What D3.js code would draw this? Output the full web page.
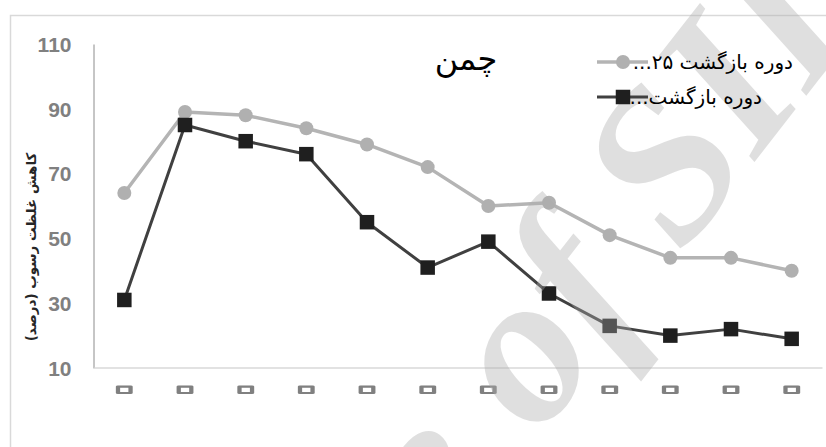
<!DOCTYPE html>
<html>
<head>
<meta charset="utf-8">
<script src="https://cdn.jsdelivr.net/npm/d3@7"></script>
<style>
  html, body { margin: 0; padding: 0; background: #fff; overflow: hidden; }
  svg { display: block; }
</style>
</head>
<body>
<svg id="chart" width="826" height="447"></svg>
<script>
// ---- data ----
const categories = ["۰", "۰", "۰", "۰", "۰", "۰", "۰", "۰", "۰", "۰", "۰", "۰"];
const seriesNames = ["دوره بازگشت ۲۵...", "دوره بازگشت..."];
const returnPeriod25 = [64, 89, 88, 84, 79, 72, 60, 61, 51, 44, 44, 40];
const returnPeriodOther = [31, 85, 80, 76, 55, 41, 49, 33, 23, 20, 22, 19];
const yTicks = [10, 30, 50, 70, 90, 110];
const chartTitle = "چمن";
const yAxisTitle = "کاهش غلظت رسوب (درصد)";
const watermarkText = "Archive of SID";

// ---- layout ----
const svg = d3.select("#chart");
const plot = { left: 94, right: 822, top: 44, bottom: 368 };

const x = d3.scaleBand()
  .domain(d3.range(categories.length))
  .range([plot.left, plot.right]);
const cx = i => x(i) + x.bandwidth() / 2;

const y = d3.scaleLinear()
  .domain([10, 110])
  .range([plot.bottom, plot.top]);

// outer chart frame
svg.append("rect")
  .attr("x", 10.5).attr("y", 15.5)
  .attr("width", 900).attr("height", 600)
  .attr("fill", "#fff")
  .attr("stroke", "#d9d9d9")
  .attr("stroke-width", 1.5);

// ---- axes ----
const yAxis = svg.append("g")
  .attr("transform", `translate(${plot.left - 0.5},0)`)
  .call(d3.axisLeft(y).tickValues(yTicks).tickSize(0).tickSizeOuter(0).tickPadding(22));
yAxis.select(".domain").attr("stroke", "#8c8c8c").attr("stroke-width", 1);
yAxis.selectAll("text")
  .attr("fill", "#808080")
  .attr("font-family", "'Liberation Sans', Arial, sans-serif")
  .attr("font-weight", "bold")
  .attr("font-size", 21)
  .attr("dy", "0.35em");

const xAxis = svg.append("g")
  .attr("transform", `translate(0,${plot.bottom - 0.5})`)
  .call(d3.axisBottom(x).tickFormat(i => categories[i]).tickSize(0).tickSizeOuter(0).tickPadding(0));
xAxis.select(".domain").attr("stroke", "#d9d9d9").attr("stroke-width", 1.5);
// the zero digit is drawn as a hollow ring
xAxis.selectAll("text")
  .attr("y", 0).attr("dy", 0)
  .attr("transform", "translate(0,32) scale(1.9,1)")
  .attr("fill", "none")
  .attr("stroke", "#808080")
  .attr("stroke-width", 3.4)
  .attr("stroke-linejoin", "round")
  .attr("vector-effect", "non-scaling-stroke")
  .attr("font-family", "'DejaVu Sans', sans-serif")
  .attr("font-weight", "bold")
  .attr("font-size", 38);

// ---- watermark ----
const wm = svg.append("g").attr("transform", "translate(521,356) rotate(-52)");
const wt = wm.append("text")
  .attr("font-family", "'Liberation Serif', 'Times New Roman', serif")
  .attr("font-weight", "bold")
  .attr("font-style", "italic")
  .attr("font-size", 215)
  .attr("fill", "#adadad")
  .attr("opacity", 0.38)
  .text(watermarkText);

// ---- series ----
const line = d3.line().x((d, i) => cx(i)).y(d => y(d));

const series = svg.append("g");
series.append("path")
  .datum(returnPeriod25)
  .attr("d", line)
  .attr("fill", "none")
  .attr("stroke", "#b4b4b4")
  .attr("stroke-width", 3.5)
  .attr("stroke-linejoin", "round");

series.append("g").selectAll("circle")
  .data(returnPeriod25)
  .join("circle")
  .attr("cx", (d, i) => cx(i))
  .attr("cy", d => y(d))
  .attr("r", 7)
  .attr("fill", "#b0b0b0");

series.append("path")
  .datum(returnPeriodOther)
  .attr("d", line)
  .attr("fill", "none")
  .attr("stroke", "#404040")
  .attr("stroke-width", 3)
  .attr("stroke-linejoin", "round");

const sq = 14.5;
series.append("g").selectAll("rect")
  .data(returnPeriodOther)
  .join("rect")
  .attr("x", (d, i) => cx(i) - sq / 2)
  .attr("y", d => y(d) - sq / 2)
  .attr("width", sq)
  .attr("height", sq)
  .attr("fill", "#1f1f1f");

// watermark sits above the plotted marks
wm.raise();

// centre the "o" of "of" on the group origin
const ext = wt.node().getExtentOfChar(watermarkText.indexOf(" of") + 1);
wt.attr("x", -(ext.x + ext.width / 2)).attr("y", -(ext.y + ext.height / 2) - 8);

// ---- titles ----
svg.append("text")
  .attr("x", 466).attr("y", 70)
  .attr("text-anchor", "middle")
  .attr("direction", "rtl")
  .attr("font-family", "'DejaVu Sans', sans-serif")
  .attr("font-size", 32)
  .attr("fill", "#000")
  .text(chartTitle);

svg.append("text")
  .attr("transform", "translate(36,247) rotate(-90)")
  .attr("text-anchor", "middle")
  .attr("direction", "rtl")
  .attr("font-family", "'DejaVu Sans', sans-serif")
  .attr("font-weight", "bold")
  .attr("font-size", 13.5)
  .attr("fill", "#262626")
  .text(yAxisTitle);

// ---- legend ----
const legendRows = [
  { name: seriesNames[0], y: 62, right: 793, kind: "circle", color: "#b4b4b4", mark: "#b0b0b0", w: 3.5 },
  { name: seriesNames[1], y: 97, right: 762, kind: "square", color: "#404040", mark: "#1f1f1f", w: 3 }
];
legendRows.forEach(r => {
  const g = svg.append("g");
  g.append("line")
    .attr("x1", 597).attr("x2", 648)
    .attr("y1", r.y).attr("y2", r.y)
    .attr("stroke", r.color).attr("stroke-width", r.w);
  if (r.kind === "circle") {
    g.append("circle").attr("cx", 623).attr("cy", r.y).attr("r", 7).attr("fill", r.mark);
  } else {
    g.append("rect").attr("x", 623 - sq / 2).attr("y", r.y - sq / 2)
      .attr("width", sq).attr("height", sq).attr("fill", r.mark);
  }
  const t = g.append("text")
    .attr("x", r.right).attr("y", r.y + 7)
    .attr("direction", "rtl")
    .attr("font-family", "'DejaVu Sans', sans-serif")
    .attr("font-size", 20)
    .attr("fill", "#000")
    .text(r.name);
  // right-align the label on its anchor point
  const bb = t.node().getBBox();
  t.attr("x", r.right - (bb.x + bb.width - r.right));
});
</script>
</body>
</html>
